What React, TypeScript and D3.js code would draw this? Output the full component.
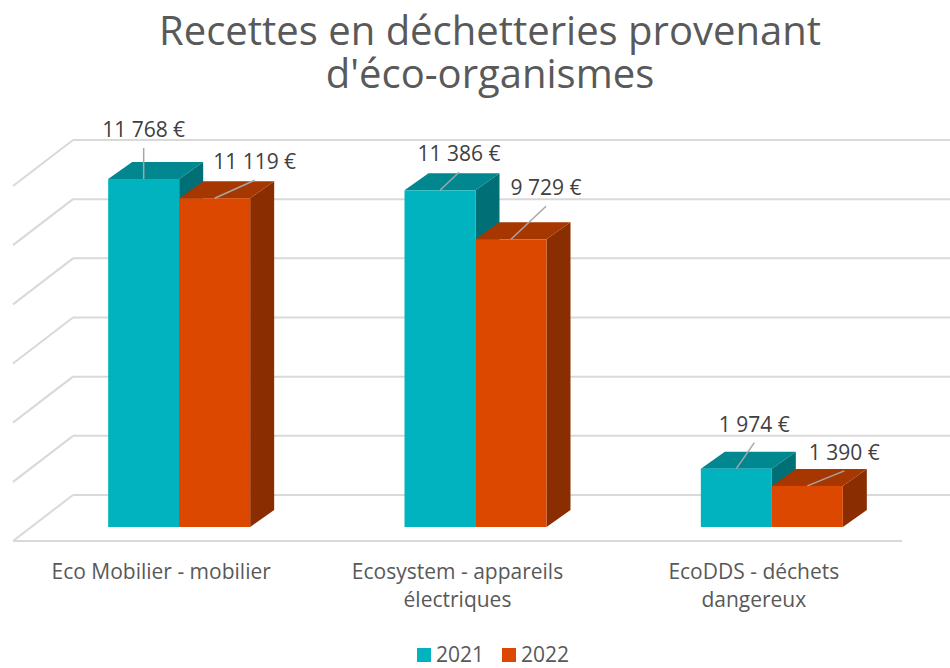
import React from 'react';
import * as d3 from 'd3';

// Chart data
const categories = ['Eco Mobilier - mobilier', 'Ecosystem - appareils électriques', 'EcoDDS - déchets dangereux'];
const categoryLines = [['Eco Mobilier - mobilier'], ['Ecosystem - appareils', 'électriques'], ['EcoDDS - déchets', 'dangereux']];
const series = ['2021', '2022'];
const values2021 = [11768, 11386, 1974];
const values2022 = [11119, 9729, 1390];
const titleLines = ['Recettes en déchetteries provenant', "d'éco-organismes"];

// Colours per series: front, top, side
const faceColors = {
  '2021': { front: '#00B3BE', top: '#00878F', side: '#006F76' },
  '2022': { front: '#DC4800', top: '#A73700', side: '#8A2D00' },
};

// Leader line offsets for each data label (layout only)
const labelNudge = [
  [[0, -31], [40, -18]],
  [[19, -18], [35, -33]],
  [[18, -26], [37, -15]],
];

const W = 950;
const H = 668;

const fmt = (v: number) => d3.format(',')(v).replace(/,/g, ' ') + ' €';

const App = () => {
  // 3D projection offsets
  const wallDx = 60;
  const wallDy = 46;
  const barDx = 24;
  const barDy = -17;

  const frontLeft = 13;
  const frontRight = 902;
  const floorFrontY = 541;

  const xBand = d3.scaleBand<string>().domain(categories).range([frontLeft, frontRight]).padding(0);
  const groupWidth = 142;
  const xInner = d3.scaleBand<string>().domain(series).range([0, groupWidth]).padding(0);

  const yGrid = d3.scaleLinear().domain([0, 12000]).range([floorFrontY - wallDy, 140]);
  const yBar = d3.scaleLinear().domain([0, 12000]).range([527, 527 - 12000 * 0.02957]);

  const gridTicks = yGrid.ticks(6);
  const backLeft = frontLeft + wallDx;

  const valuesBySeries: Record<string, number[]> = { '2021': values2021, '2022': values2022 };

  const textFont = '"Open Sans", sans-serif';

  return (
    <svg width={W} height={H} style={{ position: 'absolute', left: 0, top: 0, background: '#fff' }}>
      {/* Title */}
      {titleLines.map((t, i) => (
        <text
          key={t}
          x={490}
          y={45 + i * 43}
          textAnchor="middle"
          fontFamily={textFont}
          fontSize={40}
          fill="#595959"
        >
          {t}
        </text>
      ))}

      {/* Back wall gridlines and side wall diagonals */}
      <g stroke="#D9D9D9" strokeWidth={2} fill="none">
        {gridTicks.map((t) => (
          <g key={t}>
            <line x1={backLeft} x2={W} y1={yGrid(t)} y2={yGrid(t)} />
            <line x1={backLeft} x2={frontLeft} y1={yGrid(t)} y2={yGrid(t) + wallDy} />
          </g>
        ))}
        <line x1={frontLeft} x2={frontRight} y1={floorFrontY} y2={floorFrontY} />
      </g>

      {/* Bars */}
      {categories.map((c, ci) => {
        const groupLeft = (xBand(c) as number) + (xBand.bandwidth() - groupWidth) / 2 + 18;
        return (
          <g key={c}>
            {series.map((s) => {
              const v = valuesBySeries[s][ci];
              const x0 = groupLeft + (xInner(s) as number);
              const x1 = x0 + xInner.bandwidth();
              const yTop = yBar(v);
              const yBase = yBar(0);
              const col = faceColors[s as '2021' | '2022'];
              const top = [
                [x0, yTop],
                [x1, yTop],
                [x1 + barDx, yTop + barDy],
                [x0 + barDx, yTop + barDy],
              ];
              const side = [
                [x1, yTop],
                [x1 + barDx, yTop + barDy],
                [x1 + barDx, yBase + barDy],
                [x1, yBase],
              ];
              return (
                <g key={s}>
                  <polygon points={side.map((p) => p.join(',')).join(' ')} fill={col.side} />
                  <polygon points={top.map((p) => p.join(',')).join(' ')} fill={col.top} />
                  <rect x={x0} y={yTop} width={x1 - x0} height={yBase - yTop} fill={col.front} />
                </g>
              );
            })}
          </g>
        );
      })}

      {/* Data labels with leader lines */}
      {categories.map((c, ci) => {
        const groupLeft = (xBand(c) as number) + (xBand.bandwidth() - groupWidth) / 2 + 18;
        return series.map((s, si) => {
          const v = valuesBySeries[s][ci];
          const xc = groupLeft + (xInner(s) as number) + xInner.bandwidth() / 2;
          const yTop = yBar(v);
          const [dx, dy] = labelNudge[ci][si];
          const sx = xc + dx;
          const sy = yTop + dy;
          return (
            <g key={c + s}>
              <line x1={sx} y1={sy} x2={xc} y2={yTop} stroke="#A6A6A6" strokeWidth={1.5} />
              <text
                x={sx}
                y={sy - 11}
                textAnchor="middle"
                fontFamily={textFont}
                fontSize={21}
                fill="#404040"
              >
                {fmt(v)}
              </text>
            </g>
          );
        });
      })}

      {/* Category labels */}
      {categories.map((c, ci) => (
        <text
          key={c}
          x={(xBand(c) as number) + xBand.bandwidth() / 2}
          y={579}
          textAnchor="middle"
          fontFamily={textFont}
          fontSize={21}
          fill="#595959"
        >
          {categoryLines[ci].map((line, li) => (
            <tspan key={line} x={(xBand(c) as number) + xBand.bandwidth() / 2} dy={li === 0 ? 0 : 28}>
              {line}
            </tspan>
          ))}
        </text>
      ))}

      {/* Legend */}
      <g fontFamily={textFont} fontSize={21} fill="#595959">
        {series.map((s, i) => {
          const lx = 417 + i * 85;
          return (
            <g key={s}>
              <rect x={lx} y={648} width={14} height={14} fill={faceColors[s as '2021' | '2022'].front} />
              <text x={lx + 19} y={662}>
                {s}
              </text>
            </g>
          );
        })}
      </g>
    </svg>
  );
};

export default App;
